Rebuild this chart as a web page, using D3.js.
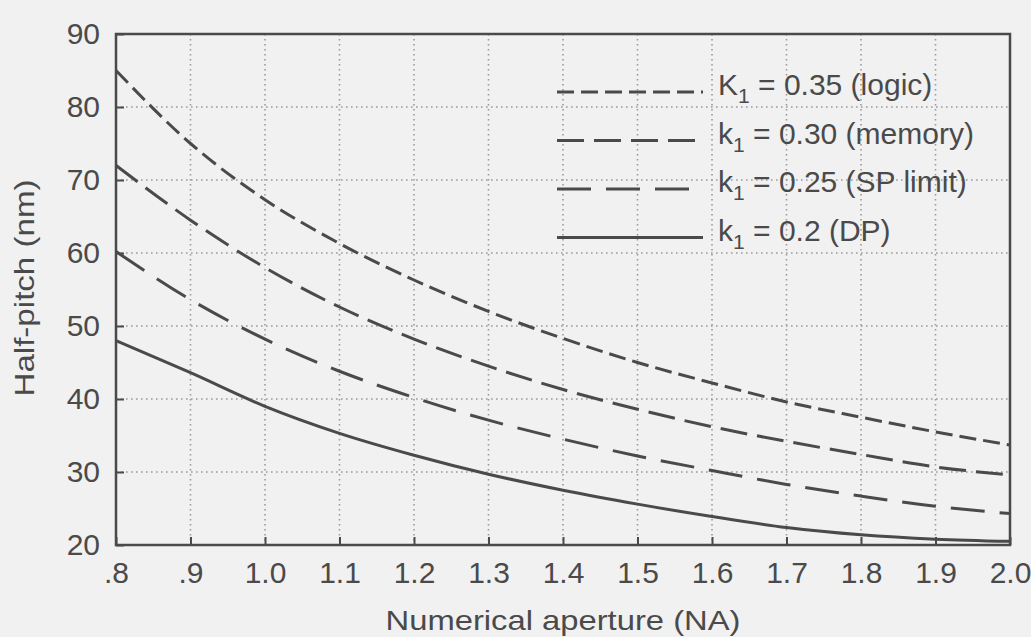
<!DOCTYPE html>
<html>
<head>
<meta charset="utf-8">
<script src="https://cdn.jsdelivr.net/npm/d3@7"></script>
<style>
  html, body { margin: 0; padding: 0; background: #f1f1f1; }
  svg { display: block; }
</style>
</head>
<body>
<div id="chart"></div>
<script>
// Half-pitch vs numerical aperture for several k1 factors
const naValues = [0.8, 0.9, 1.0, 1.1, 1.2, 1.3, 1.4, 1.5, 1.6, 1.7, 1.8, 1.9, 2.0];
const logic035 = [85, 75, 67.3, 61.3, 56.3, 52, 48.3, 45, 42.2, 39.6, 37.5, 35.5, 33.7];
const memory030 = [72, 64.5, 58, 52.6, 48.2, 44.5, 41.3, 38.6, 36.2, 34.2, 32.4, 30.7, 29.6];
const spLimit025 = [60.2, 53.6, 48.2, 43.8, 40.2, 37.1, 34.5, 32.2, 30.2, 28.3, 26.7, 25.3, 24.3];
const dp020 = [48, 43.6, 39, 35.3, 32.3, 29.7, 27.5, 25.6, 23.9, 22.4, 21.4, 20.8, 20.5];
const xTicks = [0.8, 0.9, 1.0, 1.1, 1.2, 1.3, 1.4, 1.5, 1.6, 1.7, 1.8, 1.9, 2.0];
const yTicks = [20, 30, 40, 50, 60, 70, 80, 90];

const series = [
  {cap: "K", rest: " = 0.35 (logic)", values: logic035, dash: "17,7"},
  {cap: "k", rest: " = 0.30 (memory)", values: memory030, dash: "27,10"},
  {cap: "k", rest: " = 0.25 (SP limit)", values: spLimit025, dash: "34,15"},
  {cap: "k", rest: " = 0.2 (DP)", values: dp020, dash: null}
];

const W = 1031, H = 637;
const margin = {top: 34, right: 21, bottom: 92, left: 116};
const width = W - margin.left - margin.right;
const height = H - margin.top - margin.bottom;
const ink = "#4a4a4a";

const svg = d3.select("#chart")
  .append("svg")
  .attr("width", W)
  .attr("height", H)
  .style("font-family", "'Liberation Sans', Arial, sans-serif");

svg.append("rect").attr("width", W).attr("height", H).attr("fill", "#f1f1f1");

const g = svg.append("g")
  .attr("transform", `translate(${margin.left},${margin.top})`);

const x = d3.scaleLinear().domain([0.8, 2.0]).range([0, width]);
const y = d3.scaleLinear().domain([20, 90]).range([height, 0]);

// dotted grid
g.append("g")
  .selectAll("line")
  .data(xTicks.slice(1, -1))
  .join("line")
  .attr("x1", d => x(d)).attr("x2", d => x(d))
  .attr("y1", 0).attr("y2", height)
  .attr("stroke", "#9a9a9a")
  .attr("stroke-width", 1.6)
  .attr("stroke-dasharray", "1.6,3.4");

g.append("g")
  .selectAll("line")
  .data(yTicks.slice(1, -1))
  .join("line")
  .attr("x1", 0).attr("x2", width)
  .attr("y1", d => y(d)).attr("y2", d => y(d))
  .attr("stroke", "#9a9a9a")
  .attr("stroke-width", 1.6)
  .attr("stroke-dasharray", "1.6,3.4");

// axes with inward ticks
const xAxis = g.append("g")
  .attr("transform", `translate(0,${height})`)
  .call(d3.axisBottom(x).tickValues(xTicks).tickSizeInner(-8).tickSizeOuter(0)
    .tickPadding(15)
    .tickFormat(d => d < 1 ? d3.format(".1f")(d).replace(/^0/, "") : d3.format(".1f")(d)));

const yAxis = g.append("g")
  .call(d3.axisLeft(y).tickValues(yTicks).tickSizeInner(-8).tickSizeOuter(0)
    .tickPadding(16));

[xAxis, yAxis].forEach(a => {
  a.select(".domain").remove();
  a.selectAll(".tick line").attr("stroke", ink).attr("stroke-width", 2);
  a.selectAll(".tick text")
    .attr("fill", ink)
    .style("font-size", "30px");
});
yAxis.selectAll(".tick text").attr("dy", "0.3em");
xAxis.selectAll(".tick text").attr("dy", "0.75em");

// frame
g.append("rect")
  .attr("width", width)
  .attr("height", height)
  .attr("fill", "none")
  .attr("stroke", ink)
  .attr("stroke-width", 2.5);

// curves
const line = d3.line()
  .x((d, i) => x(naValues[i]))
  .y(d => y(d))
  .curve(d3.curveMonotoneX);

series.forEach(s => {
  g.append("path")
    .datum(s.values)
    .attr("d", line)
    .attr("fill", "none")
    .attr("stroke", ink)
    .attr("stroke-width", 3)
    .attr("stroke-dasharray", s.dash);
});

// legend
const legend = svg.append("g").attr("transform", "translate(557,92)");
series.forEach((s, i) => {
  const row = legend.append("g").attr("transform", `translate(0,${i * 48.5})`);
  row.append("line")
    .attr("x1", 0).attr("x2", 146)
    .attr("y1", 0).attr("y2", 0)
    .attr("stroke", ink)
    .attr("stroke-width", 3)
    .attr("stroke-dasharray", s.dash);
  const t = row.append("text")
    .attr("x", 161)
    .attr("y", 3)
    .attr("fill", ink)
    .style("font-size", "30px");
  t.append("tspan").text(s.cap);
  t.append("tspan").attr("dy", 8).style("font-size", "21px").text("1");
  t.append("tspan").attr("dy", -8).text(s.rest);
});

// axis titles
svg.append("text")
  .attr("x", margin.left + width / 2)
  .attr("y", 630)
  .attr("text-anchor", "middle")
  .attr("fill", ink)
  .attr("textLength", 355)
  .attr("lengthAdjust", "spacingAndGlyphs")
  .style("font-size", "28px")
  .text("Numerical aperture (NA)");

svg.append("text")
  .attr("transform", `translate(34,288) rotate(-90)`)
  .attr("text-anchor", "middle")
  .attr("fill", ink)
  .attr("textLength", 217)
  .attr("lengthAdjust", "spacingAndGlyphs")
  .style("font-size", "28px")
  .text("Half-pitch (nm)");
</script>
</body>
</html>
